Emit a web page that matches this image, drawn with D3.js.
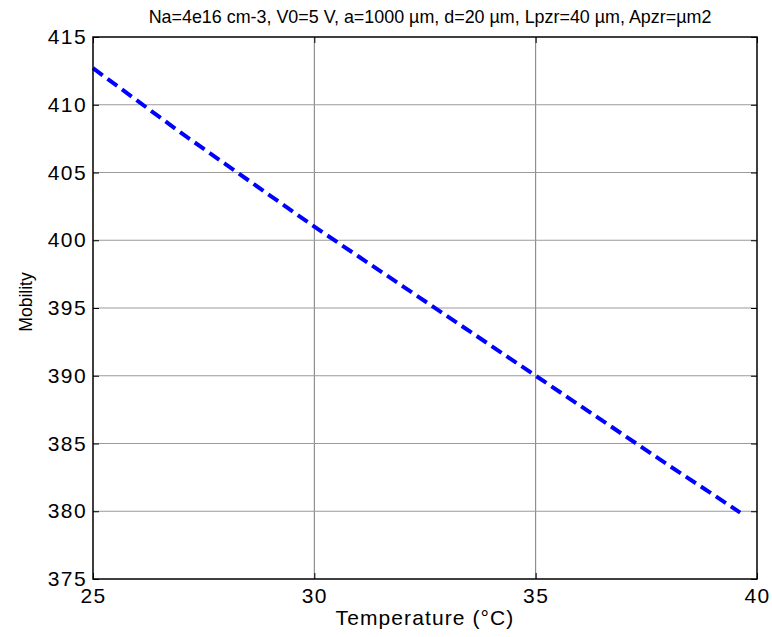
<!DOCTYPE html>
<html>
<head>
<meta charset="utf-8">
<script src="https://cdn.jsdelivr.net/npm/d3@7"></script>
<style>
  html, body { margin: 0; padding: 0; background: #fff; }
  svg { display: block; font-family: "Liberation Sans", Arial, sans-serif; }
</style>
</head>
<body>
<svg id="chart" width="772" height="637"></svg>
<script>
// Electron mobility vs temperature
const temperature = [25, 26, 27, 28, 29, 30, 31, 32, 33, 34, 35, 36, 37, 38, 39, 39.62];
const mobility    = [412.7, 410.3, 407.9, 405.6, 403.3, 401.0, 398.8, 396.6, 394.4, 392.2, 390.0, 387.8, 385.6, 383.4, 381.25, 379.9];
const xTicks = [25, 30, 35, 40];
const yTicks = [375, 380, 385, 390, 395, 400, 405, 410, 415];
const titleText = "Na=4e16 cm-3, V0=5 V, a=1000 µm, d=20 µm, Lpzr=40 µm, Apzr=µm2";
const xLabel = "Temperature  (°C)";
const yLabel = "Mobility";

const svg = d3.select("#chart");
const m = { left: 93, right: 757, top: 37, bottom: 579 };

const x = d3.scaleLinear().domain([25, 40]).range([m.left, m.right]);
const y = d3.scaleLinear().domain([375, 415]).range([m.bottom, m.top]);

// grid
const grid = svg.append("g");
grid.selectAll(".gx").data(xTicks.slice(1, -1)).join("line")
  .attr("x1", d => x(d)).attr("x2", d => x(d))
  .attr("y1", m.top).attr("y2", m.bottom)
  .attr("stroke", "#7a7a7a").attr("stroke-width", 1);
grid.selectAll(".gy").data(yTicks.slice(1, -1)).join("line")
  .attr("x1", m.left).attr("x2", m.right)
  .attr("y1", d => y(d)).attr("y2", d => y(d))
  .attr("stroke", "#9a9a9a").attr("stroke-width", 1);

// data line
const line = d3.line().x((d, i) => x(temperature[i])).y(d => y(d));
svg.append("path")
  .datum(mobility)
  .attr("d", line)
  .attr("fill", "none")
  .attr("stroke", "#0000ff")
  .attr("stroke-width", 4)
  .attr("stroke-dasharray", "12,6");

// axes with inward ticks on all four sides
const tickLen = 6;
const axB = svg.append("g").attr("transform", `translate(0,${m.bottom})`)
  .call(d3.axisBottom(x).tickValues(xTicks).tickSize(-tickLen).tickPadding(9).tickFormat(d3.format("d")));
const axT = svg.append("g").attr("transform", `translate(0,${m.top})`)
  .call(d3.axisTop(x).tickValues(xTicks).tickSize(-tickLen).tickFormat(""));
const axL = svg.append("g").attr("transform", `translate(${m.left},0)`)
  .call(d3.axisLeft(y).tickValues(yTicks).tickSize(-tickLen).tickPadding(6).tickFormat(d3.format("d")));
const axR = svg.append("g").attr("transform", `translate(${m.right},0)`)
  .call(d3.axisRight(y).tickValues(yTicks).tickSize(-tickLen).tickFormat(""));

[axB, axT, axL, axR].forEach(a => {
  a.select(".domain").remove();
  a.selectAll(".tick line").attr("stroke", "#000").attr("stroke-width", 1);
  a.selectAll(".tick text")
    .attr("font-family", "Liberation Sans, Arial, sans-serif")
    .attr("font-size", 21).attr("letter-spacing", 1.4).attr("fill", "#000");
});
axB.selectAll(".tick text").attr("dy", "0.71em");

// frame
svg.append("rect")
  .attr("x", m.left).attr("y", m.top)
  .attr("width", m.right - m.left).attr("height", m.bottom - m.top)
  .attr("fill", "none").attr("stroke", "#000").attr("stroke-width", 1.5);

// labels
svg.append("text")
  .attr("x", 430).attr("y", 23)
  .attr("text-anchor", "middle")
  .attr("font-size", 17.9)
  .text(titleText);

svg.append("text")
  .attr("x", (m.left + m.right) / 2).attr("y", 625)
  .attr("text-anchor", "middle")
  .attr("font-size", 21).attr("letter-spacing", 1.1)
  .text(xLabel);

svg.append("text")
  .attr("transform", "translate(32,302) rotate(-90)")
  .attr("text-anchor", "middle")
  .attr("font-size", 17.5)
  .text(yLabel);
</script>
</body>
</html>
